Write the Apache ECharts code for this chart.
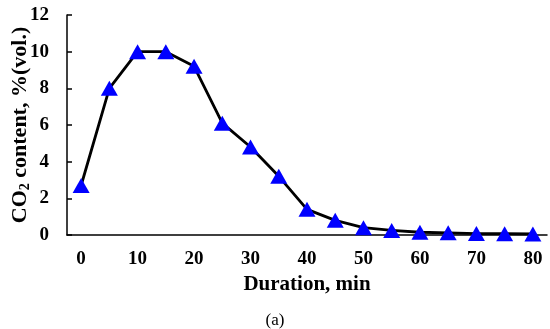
<!DOCTYPE html>
<html><head><meta charset="utf-8">
<script src="https://cdn.jsdelivr.net/npm/echarts@6/dist/echarts.min.js"></script>
<style>html,body{margin:0;padding:0;background:#fff}#c{width:550px;height:329px}</style>
</head><body><div id="c"></div>
<script>
const durations = ['0','5','10','15','20','25','30','35','40','45','50','55','60','65','70','75','80'];
const co2 = [2.7, 8.0, 10.0, 10.0, 9.2, 6.1, 4.8, 3.2, 1.4, 0.8, 0.4, 0.25, 0.15, 0.12, 0.08, 0.07, 0.06];
const yTicks = {min: 0, max: 12, step: 2};
const font = '"Liberation Serif", "Times New Roman", serif';
const chart = echarts.init(document.getElementById('c'));
chart.setOption({
  animation: false,
  grid: {left: 67, right: 3, top: 15, bottom: 94, containLabel: false, outerBoundsMode: 'none'},
  xAxis: {
    type: 'category', data: durations, boundaryGap: true,
    axisLine: {lineStyle: {color: '#000', width: 1.5}},
    axisTick: {inside: true, interval: 0, length: 5, lineStyle: {color: '#000', width: 1.5}},
    axisLabel: {interval: 1, color: '#000', fontFamily: font, fontWeight: 'bold', fontSize: 19, margin: 15},
    name: 'Duration, min', nameLocation: 'middle', nameGap: 39, nameMoveOverlap: false,
    nameTextStyle: {color: '#000', fontFamily: font, fontWeight: 'bold', fontSize: 21}
  },
  yAxis: {
    type: 'value', min: yTicks.min, max: yTicks.max, interval: yTicks.step,
    axisLine: {show: true, lineStyle: {color: '#000', width: 1.5}},
    axisTick: {show: true, inside: true, length: 5, lineStyle: {color: '#000', width: 1.5}},
    splitLine: {show: false},
    axisLabel: {color: '#000', fontFamily: font, fontWeight: 'bold', fontSize: 19, margin: 18},
    name: '{a|CO}{b|2}{a| content, %(vol.)}', nameLocation: 'middle', nameGap: 35, nameMoveOverlap: false,
    nameTextStyle: {
      color: '#000', fontFamily: font, fontWeight: 'bold', fontSize: 22,
      rich: {
        a: {fontFamily: font, fontWeight: 'bold', fontSize: 22, color: '#000', lineHeight: 24, verticalAlign: 'middle'},
        b: {fontFamily: font, fontWeight: 'bold', fontSize: 14, color: '#000', lineHeight: 24, verticalAlign: 'bottom'}
      }
    }
  },
  series: [{
    type: 'line', data: co2,
    lineStyle: {color: '#000', width: 2.8},
    symbol: 'triangle', symbolSize: [17, 15],
    itemStyle: {color: '#0000FF'}
  }],
  title: {
    text: '(a)', left: 'center', top: 307,
    textStyle: {fontFamily: font, fontWeight: 'normal', fontSize: 17, color: '#000'}
  }
});
</script></body></html>
